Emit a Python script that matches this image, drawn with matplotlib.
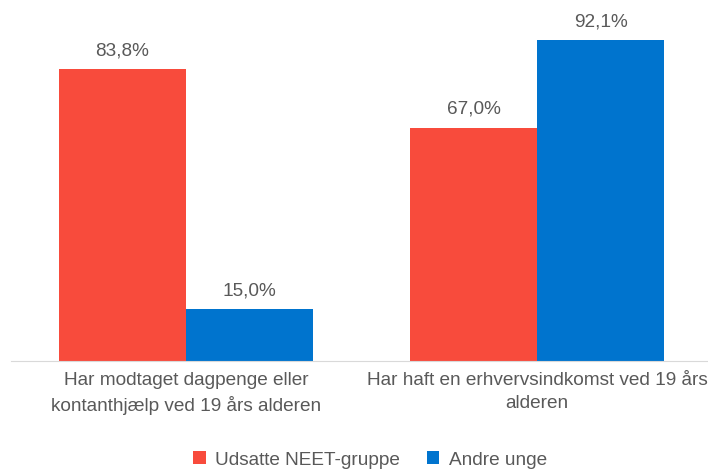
import numpy as np
import matplotlib.pyplot as plt

plt.rcParams['font.family'] = ['Liberation Sans', 'DejaVu Sans']

categories = ['Har modtaget dagpenge eller\nkontanthjælp ved 19 års alderen',
              'Har haft en erhvervsindkomst ved 19 års\nalderen']
series_names = ['Udsatte NEET-gruppe', 'Andre unge']
neet = [83.8, 67.0]
andre = [15.0, 92.1]
colors = ['#F84B3C', '#0074CE']
text_color = '#595959'

fig = plt.figure(figsize=(7.08, 4.72), dpi=100)
ax = fig.add_axes([10.5 / 708, 1 - 361 / 472, 697.5 / 708, 348.5 / 472])

x = np.arange(len(categories))
w = 0.362
bars1 = ax.bar(x - w / 2, neet, w, color=colors[0], label=series_names[0])
bars2 = ax.bar(x + w / 2, andre, w, color=colors[1], label=series_names[1])

for bars, vals in [(bars1, neet), (bars2, andre)]:
    for b, v in zip(bars, vals):
        ax.annotate(f'{v:.1f}%'.replace('.', ','), (b.get_x() + b.get_width() / 2, v),
                    xytext=(0, 7), textcoords='offset points', ha='center', va='bottom',
                    fontsize=13.7, color=text_color)

ax.set_xlim(-0.5, -0.5 + 697.5 / 351)
ax.set_ylim(0, 100)
ax.set_xticks(x)
ax.set_xticklabels(categories, fontsize=13.7, color=text_color, linespacing=1.45)
ax.tick_params(axis='x', length=0, pad=8)
ax.set_yticks([])
for s in ['top', 'right', 'left']:
    ax.spines[s].set_visible(False)
ax.spines['bottom'].set_color('#D9D9D9')

leg = fig.legend(loc='center', bbox_to_anchor=(370 / 708, 1 - 460 / 472), ncol=2, frameon=False,
                 fontsize=13.7, handlelength=0.65, handleheight=0.65, handletextpad=0.5,
                 columnspacing=1.4)
for t in leg.get_texts():
    t.set_color(text_color)

fig.savefig('out.png', dpi=100)
